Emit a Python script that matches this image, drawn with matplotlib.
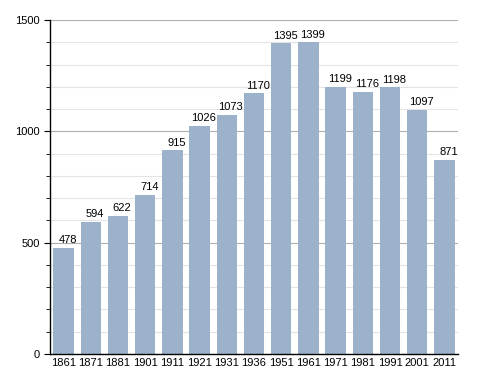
import matplotlib.pyplot as plt
import numpy as np
from matplotlib.ticker import MultipleLocator

years = ["1861", "1871", "1881", "1901", "1911", "1921", "1931", "1936",
         "1951", "1961", "1971", "1981", "1991", "2001", "2011"]
population = [478, 594, 622, 714, 915, 1026, 1073, 1170,
              1395, 1399, 1199, 1176, 1198, 1097, 871]

plt.rcParams["font.family"] = ["Liberation Sans", "DejaVu Sans"]

fig = plt.figure(figsize=(4.88, 3.73), dpi=100)
ax = fig.add_axes([50 / 488, 19 / 373, 408 / 488, 334 / 373])

x = np.arange(len(years))
ax.bar(x, population, width=0.75, color="#9cb2ca", zorder=2)

for xi, v in zip(x, population):
    ax.text(xi + 0.15, v + 12, str(v), ha="center", va="bottom", fontsize=8, color="black")

ax.set_xlim(-0.5, len(years) - 0.5)
ax.set_ylim(0, 1500)
ax.set_xticks(x)
ax.set_xticklabels(years, fontsize=8)
ax.yaxis.set_major_locator(MultipleLocator(500))
ax.yaxis.set_minor_locator(MultipleLocator(100))
ax.tick_params(axis="y", which="major", labelsize=8, length=4)
ax.tick_params(axis="y", which="minor", length=3)
ax.tick_params(axis="x", length=0, pad=3)

ax.grid(axis="y", which="minor", color="#e4e4e4", linewidth=0.8, zorder=0)
ax.grid(axis="y", which="major", color="#b0b0b0", linewidth=0.8, zorder=0)
ax.set_axisbelow(True)

for side in ("top", "right"):
    ax.spines[side].set_visible(False)
ax.spines["left"].set_linewidth(1.0)
ax.spines["bottom"].set_linewidth(1.0)

fig.savefig("out.png", dpi=100)
